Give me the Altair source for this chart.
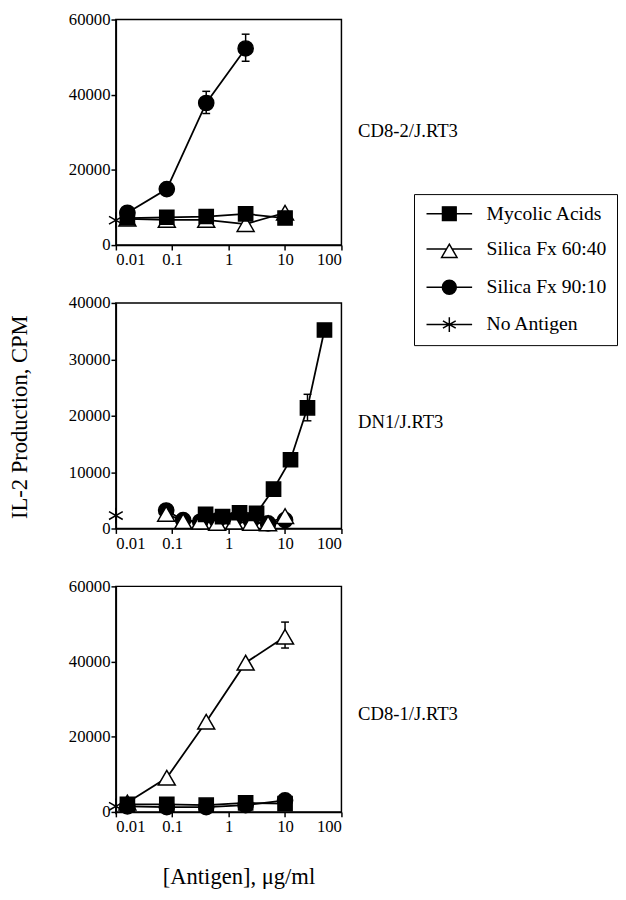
import altair as alt
import pandas as pd

SERIES = ["Mycolic Acids", "Silica Fx 60:40", "Silica Fx 90:10", "No Antigen"]

# ---- Panel 1: CD8-2/J.RT3 ----
p1_dose = [0.016, 0.08, 0.4, 2, 10]
p1_mycolic = [7200, 7400, 7600, 8300, 7200]
p1_s6040 = [7000, 6700, 6700, 5600, 8600]
p1_s9010_dose = [0.016, 0.08, 0.4, 2]
p1_s9010 = [8600, 14900, 37800, 52300]
p1_none_dose = [0.01]
p1_none = [6600]
p1_err_dose = [0.4, 2]
p1_err_lo = [35000, 48900]
p1_err_hi = [40900, 56100]

# ---- Panel 2: DN1/J.RT3 ----
p2_myc_dose = [0.39, 0.78, 1.56, 3.125, 6.25, 12.5, 25, 50]
p2_mycolic = [2500, 2100, 2800, 2700, 7000, 12200, 21400, 35200]
p2_sil_dose = [0.078, 0.156, 0.3125, 0.625, 1.25, 2.5, 5, 10]
p2_s6040 = [2600, 1300, 1200, 1000, 1200, 1000, 900, 2200]
p2_s9010 = [3200, 1500, 1200, 1400, 1500, 1300, 900, 1500]
p2_none_dose = [0.01]
p2_none = [2300]
p2_err_dose = [25]
p2_err_lo = [19100]
p2_err_hi = [23800]

# ---- Panel 3: CD8-1/J.RT3 ----
p3_dose = [0.016, 0.08, 0.4, 2, 10]
p3_mycolic = [2000, 2000, 1800, 2400, 2200]
p3_s6040 = [2500, 9100, 24000, 39700, 46600]
p3_s9010 = [1500, 1300, 1300, 1800, 3100]
p3_none_dose = [0.01]
p3_none = [1500]
p3_err_dose = [10]
p3_err_lo = [43600]
p3_err_hi = [50500]

PANEL_LABELS = ["CD8-2/J.RT3", "DN1/J.RT3", "CD8-1/J.RT3"]
X_TICKS = [0.01, 0.1, 1, 10, 100]
FONT = "Liberation Serif"

STAR = "M0,-1V1M-0.87,-0.5L0.87,0.5M-0.87,0.5L0.87,-0.5"
MARKS = {
    "Mycolic Acids": dict(shape="square", fill="black", size=210),
    "Silica Fx 60:40": dict(shape="triangle-up", fill="white", size=300),
    "Silica Fx 90:10": dict(shape="circle", fill="black", size=240),
    "No Antigen": dict(shape=STAR, fill="transparent", size=260),
}
DRAW_ORDER = ["Silica Fx 90:10", "Silica Fx 60:40", "Mycolic Acids", "No Antigen"]

LEGEND_PATHS = [
    "M-3.1,0H-0.93M0.93,0H3.1M-0.93,-0.93H0.93V0.93H-0.93Z",
    "M-3.1,0H-0.4M0.4,0H3.1M0,-0.65L1.05,1.15H-1.05Z",
    "M-3.1,0H-0.95M0.95,0H3.1M0.95,0A0.95,0.95,0,1,1,-0.95,0A0.95,0.95,0,1,1,0.95,0Z",
    "M-3.1,0H3.1M0,-1V1M-0.87,-0.5L0.87,0.5M-0.87,0.5L0.87,-0.5",
]
LEGEND_FILLS = ["black", "white", "black", "transparent"]


def long_frame(pairs):
    rows = []
    for series, doses, vals in pairs:
        for d, v in zip(doses, vals):
            rows.append({"series": series, "dose": d, "cpm": v})
    return pd.DataFrame(rows)


def err_frame(doses, lo, hi):
    return pd.DataFrame({"dose": doses, "lo": lo, "hi": hi})


def panel(df, err, ymax, yticks, label, label_y, x_title=None, y_title=None, legend=False):
    xenc = alt.X(
        "dose:Q",
        scale=alt.Scale(type="log", domain=[0.01, 100], nice=False),
        axis=alt.Axis(values=X_TICKS, format="~g",
                      title=x_title if x_title else None,
                      titlePadding=32, titleX=125),
    )
    yaxis_kw = dict(values=yticks, format="d")
    if y_title:
        yaxis_kw.update(title=y_title, titleX=-86, titleY=116)
    else:
        yaxis_kw.update(title=None)
    yenc = alt.Y("cpm:Q", scale=alt.Scale(domain=[0, ymax], nice=False),
                 axis=alt.Axis(**yaxis_kw))

    base = alt.Chart(df)
    lines = base.mark_line(color="black", strokeWidth=1.8).encode(
        x=xenc, y=yenc, detail="series:N", order="dose:Q")
    ebase = alt.Chart(err)
    erule = ebase.mark_rule(color="black", strokeWidth=1.5).encode(
        x="dose:Q", y="lo:Q", y2="hi:Q")
    cap_hi = ebase.mark_tick(color="black", orient="horizontal", size=8,
                             thickness=1.5, opacity=1).encode(x="dose:Q", y="hi:Q")
    cap_lo = ebase.mark_tick(color="black", orient="horizontal", size=8,
                             thickness=1.5, opacity=1).encode(x="dose:Q", y="lo:Q")
    layers = [lines, erule, cap_hi, cap_lo]
    for s in DRAW_ORDER:
        m = MARKS[s]
        layers.append(
            base.transform_filter(alt.datum.series == s)
            .mark_point(shape=m["shape"], fill=m["fill"], stroke="black",
                        strokeWidth=1.5, size=m["size"], opacity=1, filled=False)
            .encode(x="dose:Q", y="cpm:Q")
        )
    text = alt.Chart(pd.DataFrame({"label": [label]})).mark_text(
        align="left", baseline="middle", font=FONT, fontSize=19, color="black"
    ).encode(text="label:N", x=alt.value(247), y=alt.value(label_y))
    layers.append(text)
    if legend:
        leg = alt.Legend(
            title=None, orient="none", legendX=304, legendY=178,
            strokeColor="black", padding=10, symbolSize=225,
            symbolStrokeWidth=1.5, symbolStrokeColor="black", symbolOpacity=1,
            labelFont=FONT, labelFontSize=20, labelColor="black",
            labelOffset=28, rowPadding=16, symbolOffset=16,
        )
        dummy = alt.Chart(pd.DataFrame({"entry": SERIES})).mark_point(
            opacity=0, stroke="black", strokeWidth=1.5, size=225
        ).encode(
            shape=alt.Shape("entry:N", scale=alt.Scale(domain=SERIES, range=LEGEND_PATHS), legend=leg),
            fill=alt.Fill("entry:N", scale=alt.Scale(domain=SERIES, range=LEGEND_FILLS), legend=leg),
            stroke=alt.Stroke("entry:N", scale=alt.Scale(domain=SERIES, range=["black"] * 4), legend=leg),
        )
        layers.append(dummy)
    return alt.layer(*layers).properties(width=230, height=230)


df1 = long_frame([
    ("Mycolic Acids", p1_dose, p1_mycolic),
    ("Silica Fx 60:40", p1_dose, p1_s6040),
    ("Silica Fx 90:10", p1_s9010_dose, p1_s9010),
    ("No Antigen", p1_none_dose, p1_none),
])
df2 = long_frame([
    ("Mycolic Acids", p2_myc_dose, p2_mycolic),
    ("Silica Fx 60:40", p2_sil_dose, p2_s6040),
    ("Silica Fx 90:10", p2_sil_dose, p2_s9010),
    ("No Antigen", p2_none_dose, p2_none),
])
df3 = long_frame([
    ("Mycolic Acids", p3_dose, p3_mycolic),
    ("Silica Fx 60:40", p3_dose, p3_s6040),
    ("Silica Fx 90:10", p3_dose, p3_s9010),
    ("No Antigen", p3_none_dose, p3_none),
])

c1 = panel(df1, err_frame(p1_err_dose, p1_err_lo, p1_err_hi), 60000,
           [0, 20000, 40000, 60000], PANEL_LABELS[0], 114, legend=True)
c2 = panel(df2, err_frame(p2_err_dose, p2_err_lo, p2_err_hi), 40000,
           [0, 10000, 20000, 30000, 40000], PANEL_LABELS[1], 122,
           y_title="IL-2 Production, CPM")
c3 = panel(df3, err_frame(p3_err_dose, p3_err_lo, p3_err_hi), 60000,
           [0, 20000, 40000, 60000], PANEL_LABELS[2], 130,
           x_title="[Antigen], μg/ml")

chart = alt.vconcat(c1, c2, c3, spacing=25).properties(
    padding={"left": 0, "top": -7, "right": 0, "bottom": 0}
).configure(
    font=FONT
).configure_view(
    stroke="black", strokeWidth=1.5
).configure_axis(
    domainColor="black", domainWidth=1.5, tickColor="black", tickWidth=1.5,
    tickSize=5, labelFont=FONT, labelFontSize=17, labelColor="black",
    labelPadding=2, grid=False, titleFont=FONT, titleFontSize=23,
    titleFontWeight="normal", titleColor="black",
).configure_axisY(labelPadding=1).configure_legend(
    labelFont=FONT, labelFontSize=20, labelColor="black"
)

chart.save("out.html", embed_options={"renderer": "svg", "actions": False})
